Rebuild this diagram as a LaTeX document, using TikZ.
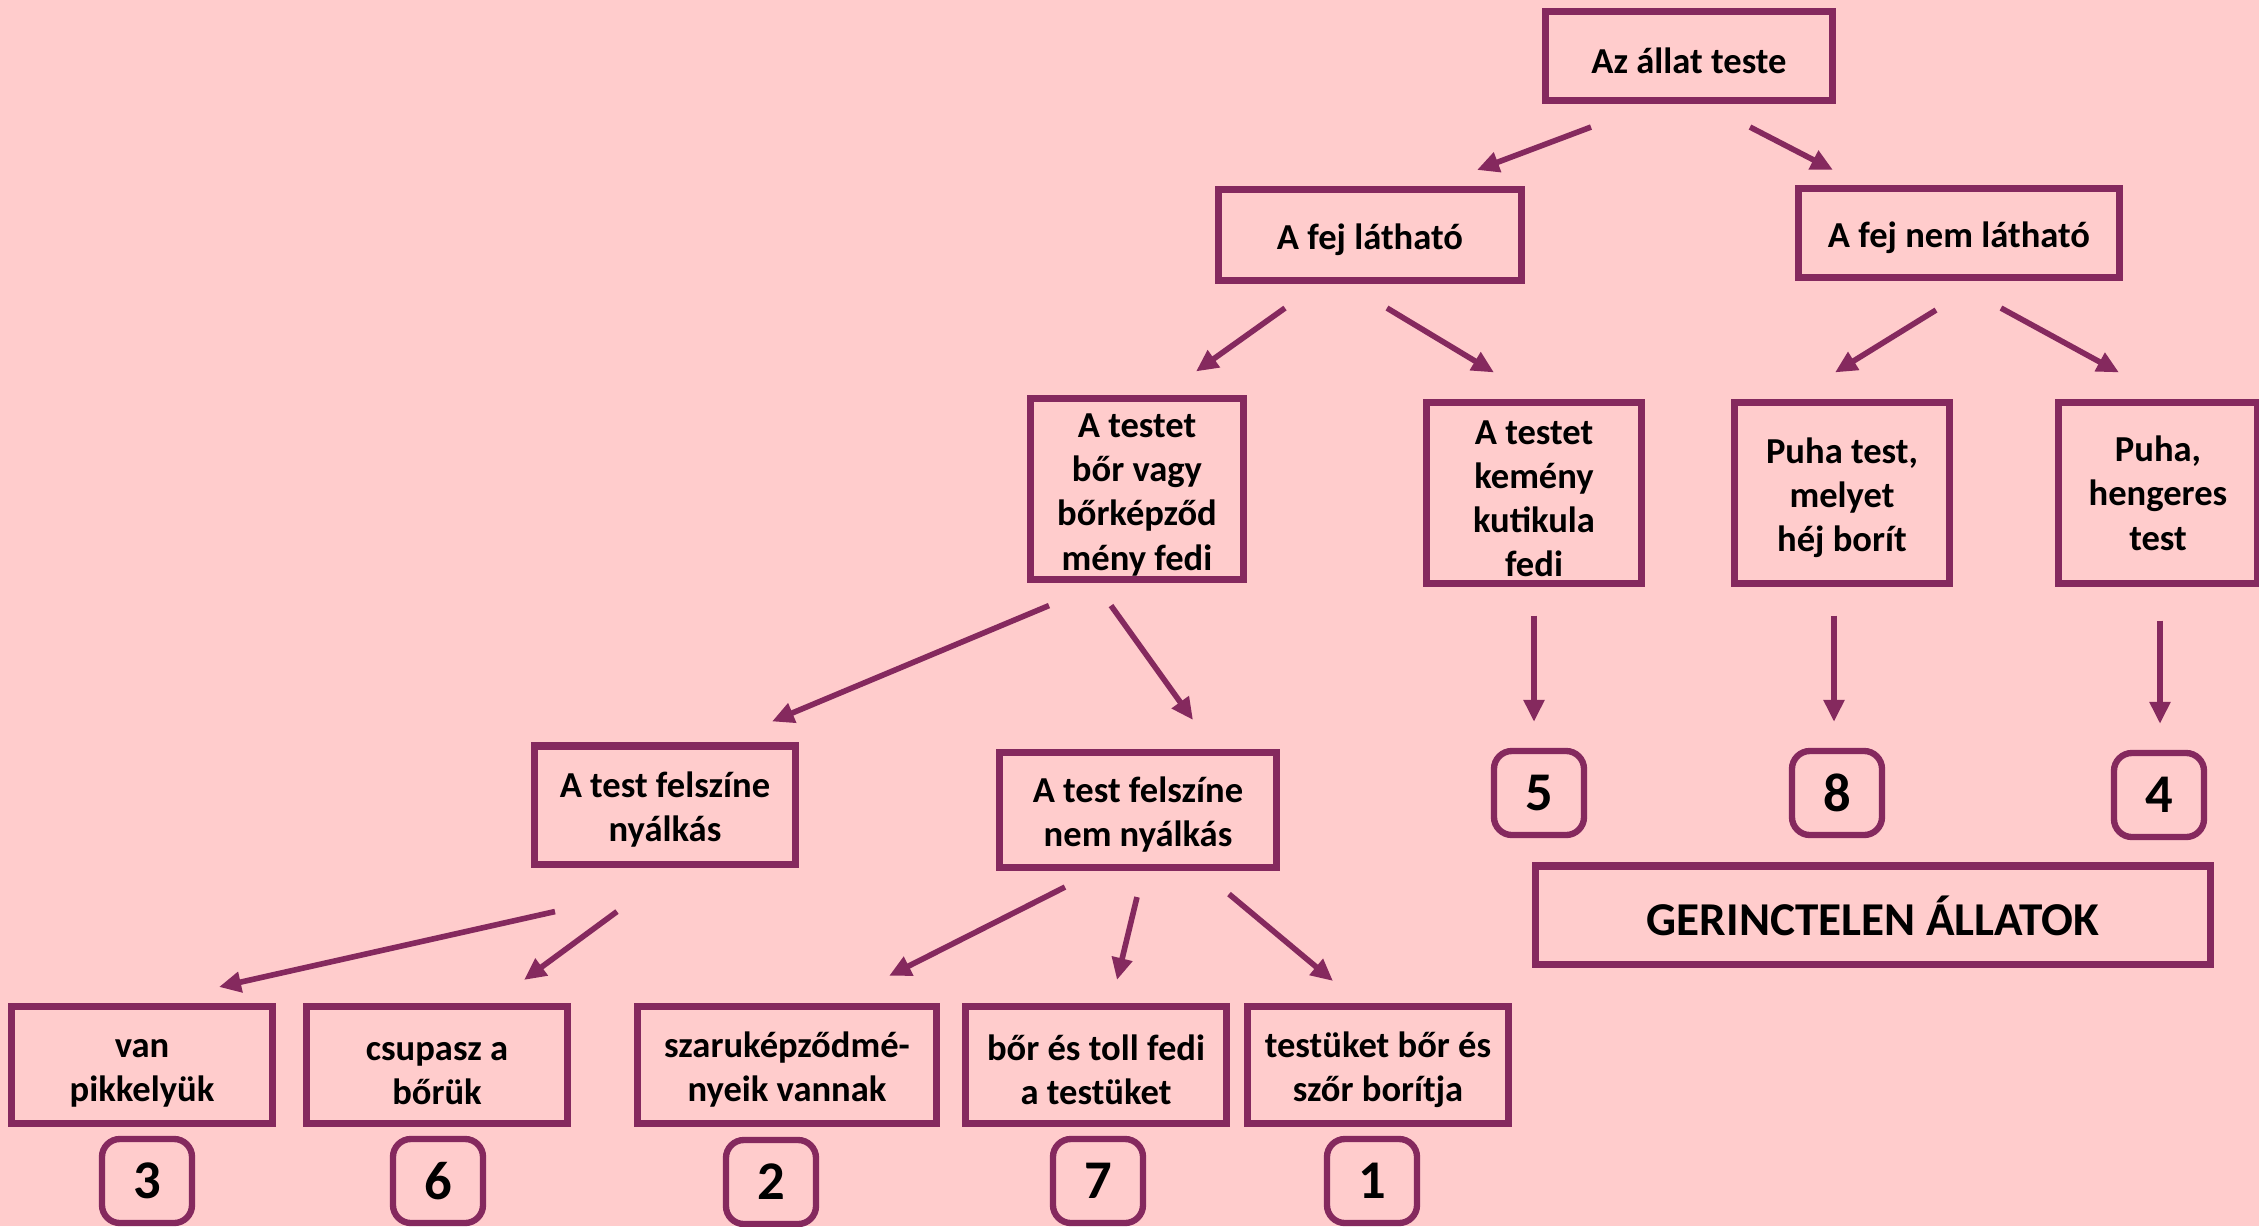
\documentclass[tikz,border=0pt]{standalone}
\usepackage{fontspec}
\setmainfont{Carlito}
\usepackage{tikz}
\usetikzlibrary{arrows.meta}
\definecolor{bgpink}{RGB}{255,204,204}
\definecolor{plum}{RGB}{133,41,94}
\newcommand{\topstrut}{\rule{0pt}{10pt}}
\tikzstyle{box} = [rectangle, draw=plum, line width=2pt, inner sep=0pt, align=center, font=\fontsize{10.4}{12.6}\selectfont\bfseries]
\tikzstyle{numbox} = [rectangle, rounded corners=0.18cm, draw=plum, line width=1.8pt, minimum width=0.9cm, minimum height=0.84cm, font=\fontsize{15.5}{18}\selectfont\bfseries]
\tikzstyle{arrow} = [draw=plum, line width=1.6pt, -{Triangle[length=0.22cm,width=0.2cm]}]

\begin{document}
\begin{tikzpicture}[x=0.01cm, y=-0.01cm]
                        \fill[bgpink] (0,0) rectangle (2259,1226);
                        \useasboundingbox (0,0) rectangle (2259,1226);

                        \node (top) [box, minimum width=2.87cm, minimum height=0.89cm] at (1689,56) {\topstrut Az állat teste};

                        \node (fej) [box, minimum width=3.02cm, minimum height=0.91cm] at (1370,235) {\topstrut A fej látható};
                        \node (nemfej) [box, minimum width=3.21cm, minimum height=0.89cm] at (1959,233) {\topstrut A fej nem látható};

                        \node (bor) [box, minimum width=2.13cm, minimum height=1.80cm] at (1137,489) {\topstrut A testet\\bőr vagy\\bőrképződ\\mény fedi};
                        \node (kutikula) [box, minimum width=2.15cm, minimum height=1.80cm] at (1534,493) {\topstrut A testet\\kemény\\kutikula\\fedi};
                        \node (hej) [box, minimum width=2.14cm, minimum height=1.80cm] at (1842,493) {\topstrut Puha test,\\melyet\\héj borít};
                        \node (henger) [box, minimum width=1.98cm, minimum height=1.80cm] at (2158,493) {Puha,\\hengeres\\test};

                        \node (nyalkas) [box, minimum width=2.61cm, minimum height=1.18cm] at (665,805) {\topstrut A test felszíne\\nyálkás};
                        \node (nemnyalkas) [box, minimum width=2.76cm, minimum height=1.15cm] at (1138,810) {\topstrut A test felszíne\\nem nyálkás};

                        \node (n5) [numbox] at (1539,793) {5};
                        \node (n8) [numbox] at (1837,793) {8};
                        \node (n4) [numbox] at (2159,795) {4};
                        \node (gerinctelen) [box, minimum width=6.74cm, minimum height=0.98cm, font=\fontsize{13.4}{16}\selectfont\bfseries] at (1873,915) {\rule{0pt}{12pt}GERINCTELEN ÁLLATOK};

                        \node (pikkely) [box, minimum width=2.60cm, minimum height=1.17cm] at (142,1065) {\topstrut van\\pikkelyük};
                        \node (csupasz) [box, minimum width=2.61cm, minimum height=1.17cm] at (437,1065) {\topstrut csupasz a\\bőrük};
                        \node (szaru) [box, minimum width=2.98cm, minimum height=1.17cm] at (787,1065) {\topstrut szaruképződmé-\\nyeik vannak};
                        \node (toll) [box, minimum width=2.61cm, minimum height=1.17cm] at (1096,1065) {\topstrut bőr és toll fedi\\a testüket};
                        \node (szor) [box, minimum width=2.60cm, minimum height=1.17cm] at (1378,1065) {\topstrut testüket bőr és\\szőr borítja};

                        \node (n3) [numbox] at (147,1181) {3};
                        \node (n6) [numbox] at (438,1181) {6};
                        \node (n2) [numbox] at (771,1182) {2};
                        \node (n7) [numbox] at (1098,1181) {7};
                        \node (n1) [numbox] at (1372,1181) {1};

                        \draw[arrow] ([shift={(-98,23)}]top.south) -- ([shift={(107,-16)}]fej.north);
                        \draw[arrow] ([shift={(61,23)}]top.south) -- ([shift={(-126,-15)}]nemfej.north);

                        \draw[arrow] ([shift={(-85,24)}]fej.south) -- ([shift={(59,-24)}]bor.north);
                        \draw[arrow] ([shift={(17,24)}]fej.south) -- ([shift={(-40,-27)}]kutikula.north);
                        \draw[arrow] ([shift={(-23,29)}]nemfej.south) -- ([shift={(-7,-27)}]hej.north);
                        \draw[arrow] ([shift={(42,27)}]nemfej.south) -- ([shift={(-39,-27)}]henger.north);

                        \draw[arrow] ([shift={(-88,23)}]bor.south) -- ([shift={(107,-21)}]nyalkas.north);
                        \draw[arrow] ([shift={(-26,23)}]bor.south) -- ([shift={(55,-29)}]nemnyalkas.north);
                        \draw[arrow] ([shift={(0,29)}]kutikula.south) -- ([shift={(-5,-26)}]n5.north);
                        \draw[arrow] ([shift={(-8,29)}]hej.south) -- ([shift={(-3,-26)}]n8.north);
                        \draw[arrow] ([shift={(2,34)}]henger.south) -- ([shift={(1,-26)}]n4.north);

                        \draw[arrow] ([shift={(-110,44)}]nyalkas.south) -- ([shift={(77,-16)}]pikkely.north);
                        \draw[arrow] ([shift={(-48,44)}]nyalkas.south) -- ([shift={(87,-23)}]csupasz.north);
                        \draw[arrow] ([shift={(-73,16)}]nemnyalkas.south) -- ([shift={(102,-27)}]szaru.north);
                        \draw[arrow] ([shift={(-1,26)}]nemnyalkas.south) -- ([shift={(21,-23)}]toll.north);
                        \draw[arrow] ([shift={(91,23)}]nemnyalkas.south) -- ([shift={(-45,-22)}]szor.north);

                    \end{tikzpicture}
\end{document}
